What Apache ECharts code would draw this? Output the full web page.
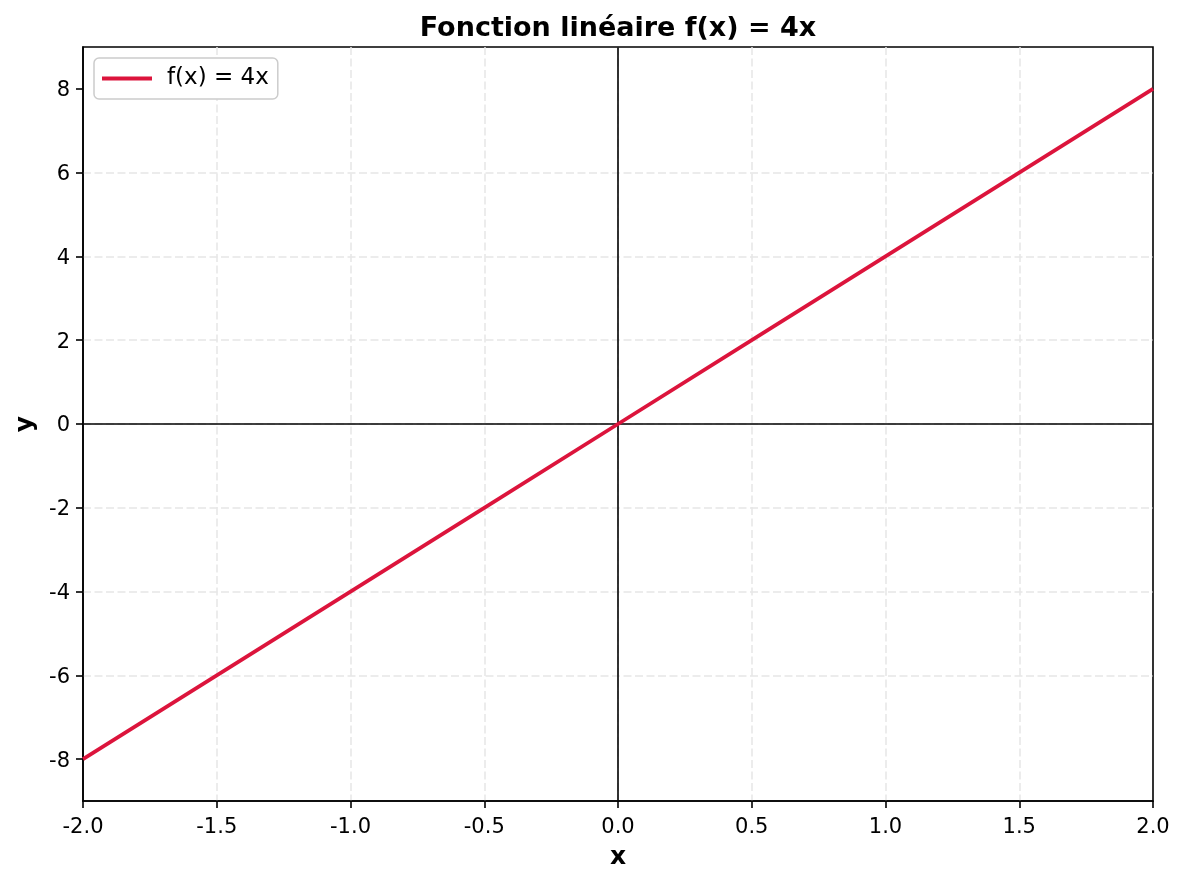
<!DOCTYPE html>
<html>
<head>
<meta charset="utf-8">
<script src="https://cdn.jsdelivr.net/npm/echarts@6/dist/echarts.min.js"></script>
<style>
  html, body { margin: 0; padding: 0; background: #fff; }
  #chart { width: 1185px; height: 884px; }
</style>
</head>
<body>
<div id="chart"></div>
<script>
// points
const xValues = [-2, -1.5, -1, -0.5, 0, 0.5, 1, 1.5, 2];
const yValues = [-8, -6, -4, -2, 0, 2, 4, 6, 8];
const xTicks = [-2, -1.5, -1, -0.5, 0, 0.5, 1, 1.5, 2];
const yTicks = [-8, -6, -4, -2, 0, 2, 4, 6, 8];
const seriesName = 'f(x) = 4x';

const chart = echarts.init(document.getElementById('chart'));
const font = 'DejaVu Sans';
const gridLine = { show: true, showMinLine: false, showMaxLine: false, lineStyle: { color: '#e6e6e6', type: [8, 3.5], width: 1.5 } };

const option = {
  backgroundColor: '#fff',
  animation: false,
  title: {
    text: 'Fonction linéaire f(x) = 4x',
    left: 613,
    textAlign: 'center',
    top: 10,
    textStyle: { fontFamily: font, fontSize: 27, fontWeight: 'bold', color: '#000' },
  },
  legend: {
    left: 94,
    top: 58,
    orient: 'vertical',
    data: [{ name: seriesName, icon: 'rect' }],
    itemWidth: 50,
    itemHeight: 4,
    padding: [9, 9, 9, 8],
    backgroundColor: '#fff',
    borderColor: '#cccccc',
    borderWidth: 1.5,
    borderRadius: 5,
    textStyle: { fontFamily: font, fontSize: 23, lineHeight: 23, color: '#000', padding: [0, 0, 0, 10] },
  },
  grid: {
    left: 83,
    right: 32,
    top: 47,
    bottom: 83,
    show: true,
    borderColor: '#000',
    borderWidth: 1.6,
    backgroundColor: 'transparent',
  },
  xAxis: {
    type: 'value',
    min: -2,
    max: 2,
    interval: 0.5,
    name: 'x',
    nameLocation: 'middle',
    nameGap: 44,
    nameTextStyle: { fontFamily: font, fontSize: 25, fontWeight: 'bold', color: '#000' },
    axisLine: { show: true, onZero: false, lineStyle: { color: '#000', width: 1.6 } },
    axisTick: { show: true, length: 7, lineStyle: { color: '#000', width: 1.6 }, customValues: xTicks },
    axisLabel: {
      customValues: xTicks,
      fontFamily: font, fontSize: 21, color: '#000', margin: 16,
      formatter: v => v.toFixed(1),
    },
    splitLine: gridLine,
  },
  yAxis: {
    type: 'value',
    min: -9,
    max: 9,
    name: 'y',
    nameLocation: 'middle',
    nameGap: 43,
    nameTextStyle: { fontFamily: font, fontSize: 25, fontWeight: 'bold', color: '#000' },
    axisLine: { show: true, onZero: false, lineStyle: { color: '#000', width: 1.6 } },
    axisTick: { show: true, length: 7, lineStyle: { color: '#000', width: 1.6 }, customValues: yTicks },
    axisLabel: {
      customValues: yTicks,
      color: '#000', margin: 13,
      formatter: v => '{t|' + v + '}',
      rich: {
        t: { fontFamily: font, fontSize: 21, color: '#000', padding: [4, 0, 0, 0] },
      },
    },
    splitLine: gridLine,
  },
  series: [
    {
      name: seriesName,
      type: 'line',
      data: xValues.map((x, i) => [x, yValues[i]]),
      symbol: 'none',
      color: '#dc143c',
      lineStyle: { color: '#dc143c', width: 3.8 },
      z: 5,
      markLine: {
        silent: true,
        symbol: 'none',
        label: { show: false },
        lineStyle: { color: '#000', width: 1.6, type: 'solid' },
        data: [{ xAxis: 0 }, { yAxis: 0 }],
        z: 3,
      },
    },
  ],
};

chart.setOption(option);
window.onresize = function() {
  chart.resize();
};
</script>
</body>
</html>
